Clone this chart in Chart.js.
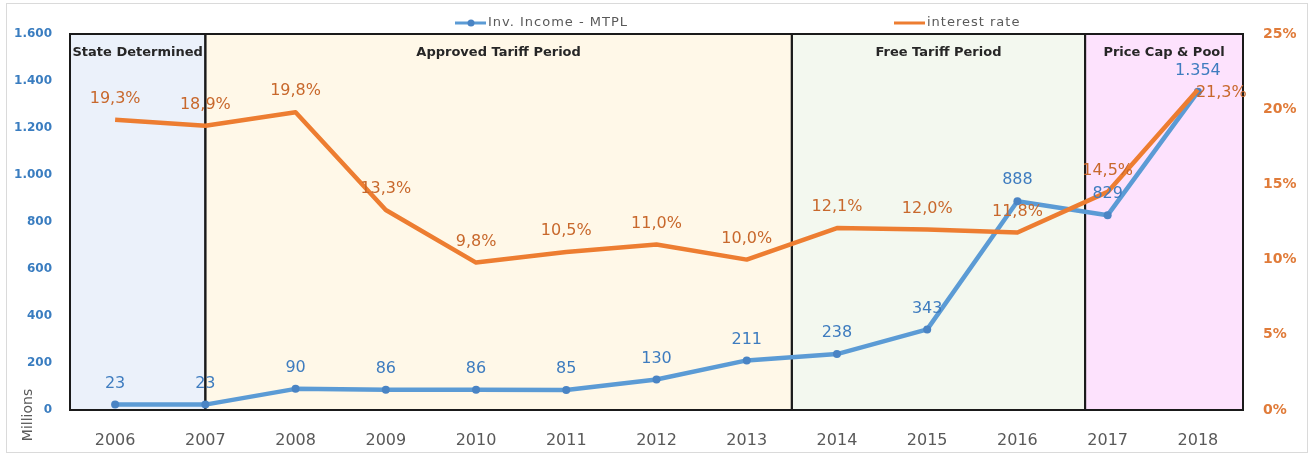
<!DOCTYPE html>
<html>
<head>
<meta charset="utf-8">
<script src="https://cdn.jsdelivr.net/npm/chart.js@4"></script>
<style>
  html, body { margin: 0; padding: 0; background: #ffffff; }
  #wrap { width: 1311px; height: 455px; position: relative; }
</style>
</head>
<body>
<div id="wrap"><canvas id="chart" width="1311" height="455"></canvas></div>
<script>
// ---- data ----
const years = ['2006', '2007', '2008', '2009', '2010', '2011', '2012', '2013', '2014', '2015', '2016', '2017', '2018'];
const invIncome = [23, 23, 90, 86, 86, 85, 130, 211, 238, 343, 888, 829, 1354];          // millions
const interestRate = [19.3, 18.9, 19.8, 13.3, 9.8, 10.5, 11.0, 10.0, 12.1, 12.0, 11.8, 14.5, 21.3]; // %
const incomeTicks = [0, 200, 400, 600, 800, 1000, 1200, 1400, 1600];
const rateTicks = [0, 5, 10, 15, 20, 25];

// regulatory periods, bounded in category units (index of year on the x axis)
const periodNames = ['State Determined', 'Approved Tariff Period', 'Free Tariff Period', 'Price Cap & Pool'];
const periodFrom = [-0.5, 1, 7.5, 10.75];
const periodTo = [1, 7.5, 10.75, 12.5];

// ---- styling ----
const periodFills = ['#EBF1FA', '#FFF8E8', '#F3F8EF', '#FDE2FD'];
const BLUE = '#5B9BD5', BLUE_TEXT = '#3E7CBF', BLUE_MARK = '#4A84C4';
const ORANGE = '#ED7D31', ORANGE_TEXT = '#C8682C';
const GRAY = '#595959';

const thousands = v => String(v).replace(/\B(?=(\d{3})+(?!\d))/g, '.');
const pct = v => v.toFixed(1).replace('.', ',') + '%';

// shaded period panels behind everything
const periodPanels = {
  id: 'periodPanels',
  beforeDraw(chart) {
    const { ctx, chartArea: a, scales: { x } } = chart;
    ctx.save();
    // thin frame round the whole picture
    ctx.strokeStyle = '#DADADA';
    ctx.lineWidth = 1;
    ctx.strokeRect(6.5, 3.5, 1301, 449);
    periodNames.forEach((n, i) => {
      const x0 = x.getPixelForValue(periodFrom[i]);
      const x1 = x.getPixelForValue(periodTo[i]);
      ctx.fillStyle = periodFills[i];
      ctx.fillRect(x0, a.top, x1 - x0, a.bottom - a.top);
    });
    ctx.restore();
  },
  beforeDatasetsDraw(chart) {
    const { ctx, chartArea: a, scales: { x } } = chart;
    ctx.save();
    ctx.strokeStyle = '#1A1A1A';
    ctx.lineWidth = 2;
    periodNames.forEach((n, i) => {
      const x0 = x.getPixelForValue(periodFrom[i]);
      const x1 = x.getPixelForValue(periodTo[i]);
      ctx.strokeRect(x0, a.top, x1 - x0, a.bottom - a.top);
      ctx.fillStyle = '#262626';
      ctx.font = 'bold 13px "DejaVu Sans"';
      ctx.textAlign = 'center';
      ctx.textBaseline = 'middle';
      ctx.fillText(n, (x0 + x1) / 2, a.top + 19);
    });
    // unit caption, rotated, beside the lower left axis
    ctx.translate(28, 415);
    ctx.rotate(-Math.PI / 2);
    ctx.fillStyle = GRAY;
    ctx.font = '14px "DejaVu Sans"';
    ctx.textAlign = 'center';
    ctx.textBaseline = 'middle';
    ctx.fillText('Millions', 0, 0);
    ctx.restore();
  }
};

// value labels next to every point
const valueLabels = {
  id: 'valueLabels',
  afterDatasetsDraw(chart) {
    const { ctx } = chart;
    ctx.save();
    ctx.font = '16px "DejaVu Sans"';
    ctx.textBaseline = 'middle';
    chart.data.datasets.forEach((ds, di) => {
      const meta = chart.getDatasetMeta(di);
      meta.data.forEach((pt, i) => {
        const text = ds.labelFormat(ds.data[i]);
        ctx.fillStyle = ds.labelColor;
        if (ds.labelRightOf && ds.labelRightOf(i)) {
          ctx.textAlign = 'left';
          ctx.fillText(text, pt.x - 2, pt.y + 3);
        } else {
          ctx.textAlign = 'center';
          ctx.fillText(text, pt.x, pt.y - 21);
        }
      });
    });
    ctx.restore();
  }
};

// legend along the top edge
const topLegend = {
  id: 'topLegend',
  afterDraw(chart) {
    const { ctx } = chart;
    const spots = [455, 894];
    ctx.save();
    ctx.font = '13px "DejaVu Sans"';
    if ('letterSpacing' in ctx) ctx.letterSpacing = '1px';
    ctx.textAlign = 'left';
    ctx.textBaseline = 'middle';
    chart.data.datasets.forEach((ds, di) => {
      const x0 = spots[di], y = 23;
      ctx.strokeStyle = ds.borderColor;
      ctx.lineWidth = 3;
      ctx.beginPath();
      ctx.moveTo(x0, y);
      ctx.lineTo(x0 + 31, y);
      ctx.stroke();
      if (ds.pointRadius > 0) {
        ctx.fillStyle = ds.pointBackgroundColor;
        ctx.beginPath();
        ctx.arc(x0 + 16, y, 3.5, 0, Math.PI * 2);
        ctx.fill();
      }
      ctx.fillStyle = GRAY;
      ctx.fillText(ds.label, x0 + 33, y);
    });
    ctx.restore();
  }
};

new Chart(document.getElementById('chart'), {
  type: 'line',
  data: {
    labels: years,
    datasets: [
      {
        label: 'Inv. Income - MTPL',
        data: invIncome,
        yAxisID: 'y',
        borderColor: BLUE,
        borderWidth: 4.5,
        pointRadius: 4,
        pointBackgroundColor: BLUE_MARK,
        pointBorderWidth: 0,
        borderJoinStyle: 'round',
        tension: 0,
        order: 1,
        labelColor: BLUE_TEXT,
        labelFormat: thousands
      },
      {
        label: 'interest rate',
        data: interestRate,
        yAxisID: 'y1',
        borderColor: ORANGE,
        borderWidth: 4.5,
        pointRadius: 0,
        borderJoinStyle: 'round',
        tension: 0,
        order: 0,
        labelColor: ORANGE_TEXT,
        labelFormat: pct,
        labelRightOf: i => i === interestRate.length - 1
      }
    ]
  },
  options: {
    responsive: false,
    animation: false,
    layout: { padding: { top: 34, left: 0, right: 0, bottom: 0 } },
    plugins: { legend: { display: false }, tooltip: { enabled: false } },
    scales: {
      x: {
        offset: true,
        grid: { display: false, drawTicks: false },
        border: { display: false },
        ticks: {
          color: GRAY,
          font: { family: 'DejaVu Sans', size: 16 },
          padding: 21,
          maxRotation: 0,
          autoSkip: false
        },
        afterFit(s) { s.height = 45; }
      },
      y: {
        position: 'left',
        min: 0, max: 1600,
        afterBuildTicks(s) { s.ticks = incomeTicks.map(v => ({ value: v })); },
        grid: { display: false, drawTicks: false },
        border: { display: false },
        ticks: {
          color: '#3A7DC0',
          font: { family: 'DejaVu Sans', size: 12, weight: 'bold' },
          padding: 18,
          callback: v => thousands(v)
        },
        afterFit(s) { s.width = 70; }
      },
      y1: {
        position: 'right',
        min: 0, max: 25,
        afterBuildTicks(s) { s.ticks = rateTicks.map(v => ({ value: v })); },
        grid: { display: false, drawTicks: false },
        border: { display: false },
        ticks: {
          color: '#E07B39',
          font: { family: 'DejaVu Sans', size: 14, weight: 'bold' },
          padding: 20,
          callback: v => v + '%'
        },
        afterFit(s) { s.width = 68; }
      }
    }
  },
  plugins: [periodPanels, valueLabels, topLegend]
});
</script>
</body>
</html>
